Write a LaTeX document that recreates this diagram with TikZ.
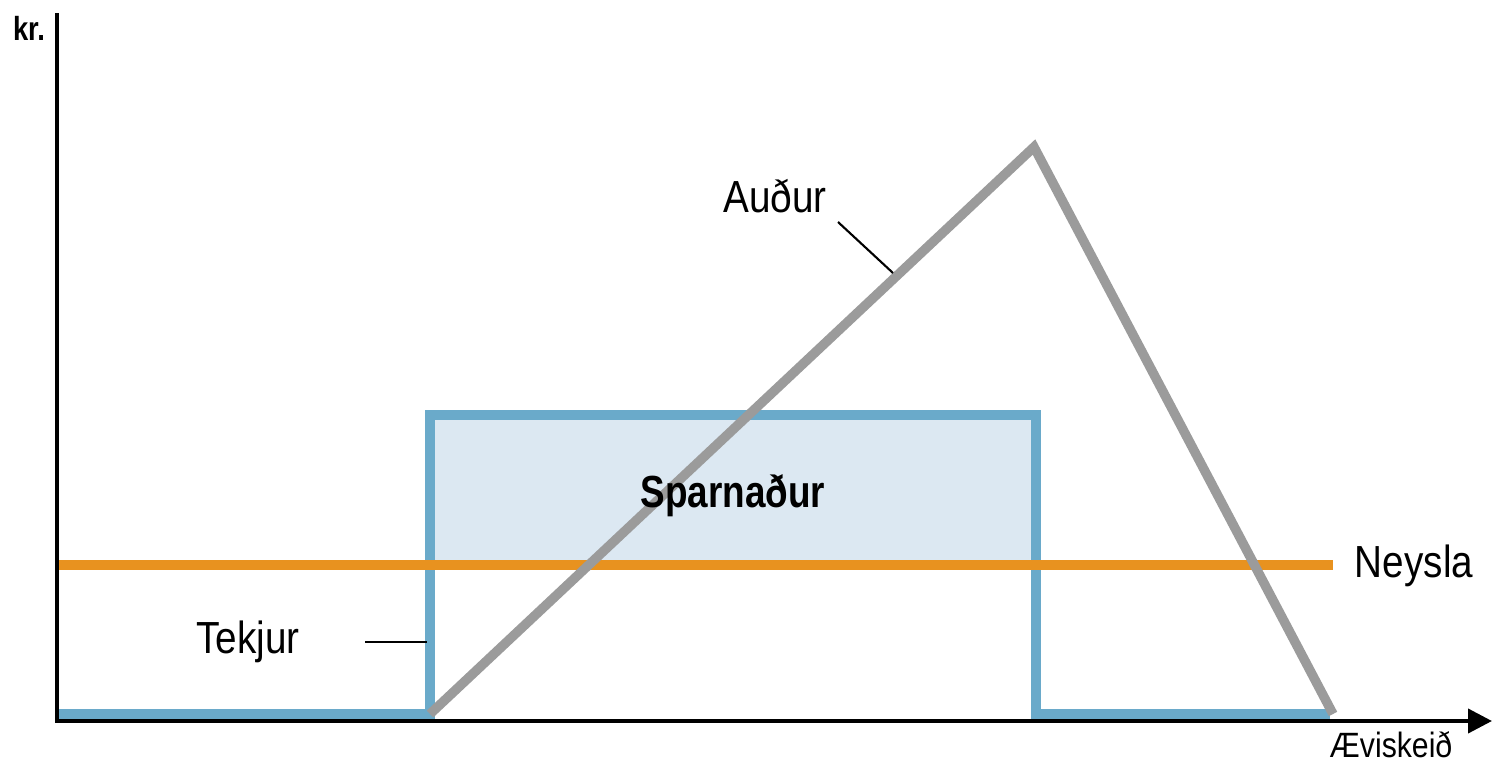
\documentclass[tikz,border=0pt]{standalone}
\usepackage{fontspec}
\setmainfont{Liberation Sans}[FakeStretch=0.86, BoldFeatures={FakeStretch=0.82}]
\usetikzlibrary{arrows.meta}
\definecolor{incblue}{HTML}{6AAACA}
\definecolor{incfill}{HTML}{DCE8F2}
\definecolor{consorange}{HTML}{E8921F}
\definecolor{wealthgray}{HTML}{9B9B9B}
\tikzset{
  axisline/.style={line width=1.15pt, black},
  incomeline/.style={line width=2.8pt, incblue, line join=miter},
  consline/.style={line width=2.8pt, consorange},
  wealthline/.style={line width=2.7pt, wealthgray, line join=miter},
  leader/.style={line width=0.6pt, black},
  lbl/.style={inner sep=0pt, anchor=base, font=\fontsize{12.8pt}{14pt}\selectfont},
}
\begin{document}
\begin{tikzpicture}
\useasboundingbox (0,0) rectangle (14.92,7.67);
% coordinates
\coordinate (origin) at (0.57,0.46);
\coordinate (ytop) at (0.57,7.54);
\coordinate (xend) at (14.92,0.46);
\coordinate (i0) at (0.57,0.53);
\coordinate (i1) at (4.30,0.53);
\coordinate (i2) at (4.30,3.52);
\coordinate (i3) at (10.36,3.52);
\coordinate (i4) at (10.36,0.53);
\coordinate (i5) at (13.30,0.53);
\coordinate (c0) at (0.57,2.02);
\coordinate (c1) at (13.33,2.02);
\coordinate (w0) at (4.30,0.53);
\coordinate (w1) at (10.34,6.20);
\coordinate (w2) at (13.33,0.53);
% savings fill
\fill[incfill] (4.30,2.02) rectangle (10.36,3.52);
% income
\draw[incomeline] (i0) -- (i1) -- (i2) -- (i3) -- (i4) -- (i5);
% consumption
\draw[consline] (c0) -- (c1);
% wealth
\draw[wealthline] (w0) -- (w1) -- (w2);
% axes
\draw[axisline, -{Triangle[length=0.24cm,width=0.24cm]}] (ytop) -- (origin) -- (xend);
% labels
\node[lbl, font=\fontsize{9.5pt}{10pt}\selectfont\bfseries] (kr) at (0.29,7.27) {kr.};
\node[lbl, font=\fontsize{10pt}{11pt}\selectfont] (aevi) at (13.91,0.10) {Æviskeið};
\node[lbl] (audur) at (7.75,5.55) {Auður};
\node[lbl, font=\fontsize{12.8pt}{14pt}\selectfont\bfseries] (sparn) at (7.33,2.60) {Sparnaður};
\node[lbl] (neysla) at (14.14,1.90) {Neysla};
\node[lbl] (tekjur) at (2.48,1.14) {Tekjur};
% leaders
\coordinate (la0) at (8.38,5.45);
\coordinate (la1) at (8.93,4.94);
\coordinate (lt0) at (3.65,1.25);
\coordinate (lt1) at (4.27,1.25);
\draw[leader] (la0) -- (la1);
\draw[leader] (lt0) -- (lt1);
\end{tikzpicture}
\end{document}
